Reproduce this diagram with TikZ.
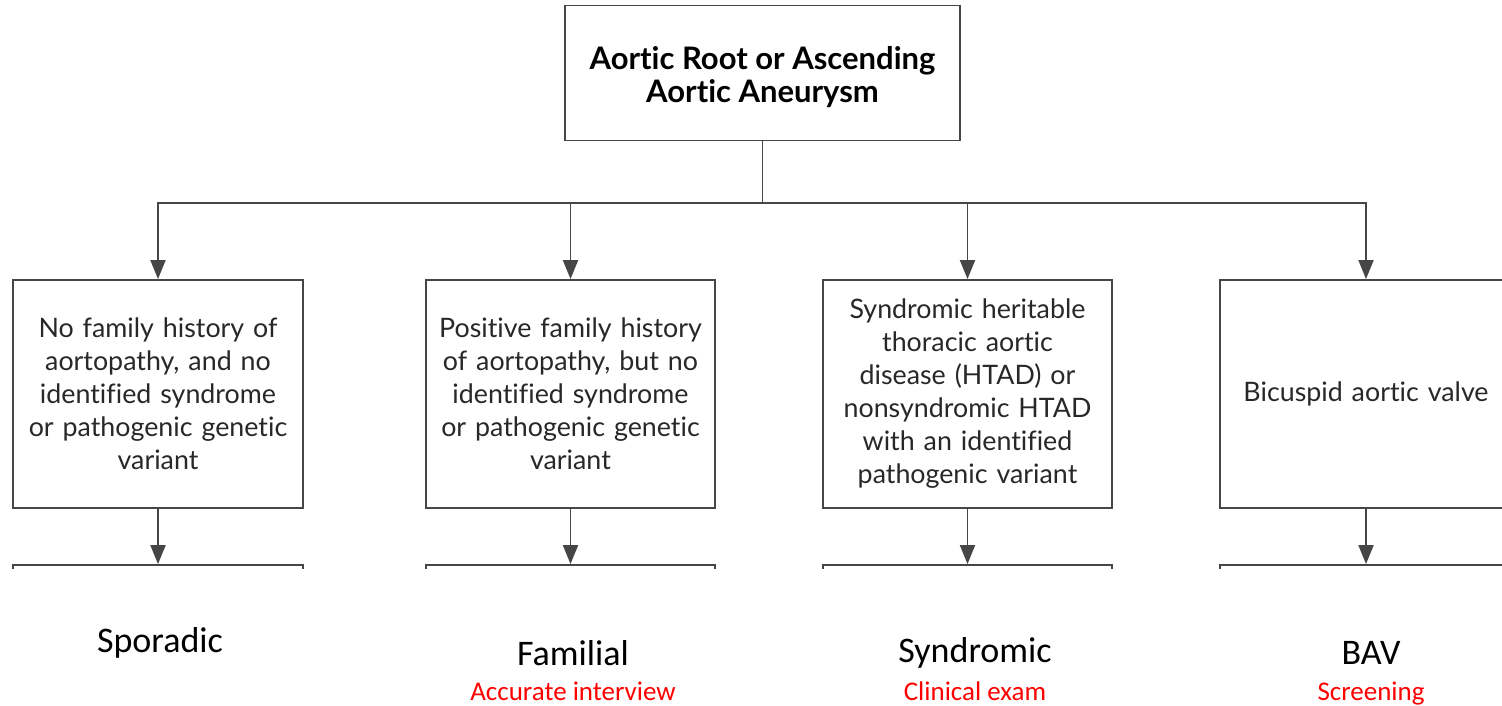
\documentclass[tikz,border=0pt]{standalone}
\usepackage{fontspec}
\setmainfont{Lato}[Ligatures=NoCommon]
\newfontfamily\calib{Carlito}
\usetikzlibrary{arrows.meta}
\definecolor{linec}{RGB}{70,70,70}
\definecolor{txtc}{RGB}{40,40,40}
\definecolor{redc}{RGB}{255,0,0}
\tikzset{
  box/.style={draw=linec, line width=1.9pt, align=center, inner sep=0pt,
    minimum height=228pt, text=txtc, font=\fontsize{26.8}{33}\selectfont},
  conn/.style={draw=linec, line width=1.9pt},
  arr/.style={conn, -{Triangle[length=19pt,width=15pt]}},
  lab/.style={font=\calib\fontsize{36}{40}\selectfont, text=black, inner sep=0pt},
  sub/.style={font=\calib\fontsize{27}{30}\selectfont, text=redc, inner sep=0pt}
}
\begin{document}
\begin{tikzpicture}[x=1pt,y=-1pt]
\useasboundingbox (0,0) rectangle (1502,705);
\fill[white] (0,0) rectangle (1502,705);
\begin{scope}
\clip (0,0) rectangle (1502,705);
\node[draw=linec, line width=1.9pt, minimum width=395pt, minimum height=135pt, align=center,
  font=\bfseries\fontsize{31}{33}\selectfont, text=black] (top) at (762.5,73) {\rule{0pt}{31pt}Aortic Root or Ascending\\Aortic Aneurysm};
\node[box, minimum width=290pt, text width=280pt] (b1) at (158,394) {No family history of\\aortopathy, and no\\identified syndrome\\or pathogenic genetic\\variant};
\node[box, minimum width=289pt, text width=285pt] (b2) at (570.5,394) {Positive family history\\of aortopathy, but no\\identified syndrome\\or pathogenic genetic\\variant};
\node[box, minimum width=289pt, text width=280pt] (b3) at (967.5,394) {Syndromic heritable\\thoracic aortic\\disease (HTAD) or\\nonsyndromic HTAD\\with an identified\\pathogenic variant};
\node[box, minimum width=292pt, text width=285pt] (b4) at (1366,394) {Bicuspid aortic valve};
\end{scope}
\begin{scope}
\clip (0,0) rectangle (1502,568);
\node[box, minimum width=290pt, minimum height=100pt] (l1) at (158,615) {};
\node[box, minimum width=289pt, minimum height=100pt] (l2) at (570.5,615) {};
\node[box, minimum width=289pt, minimum height=100pt] (l3) at (967.5,615) {};
\node[box, minimum width=292pt, minimum height=100pt] (l4) at (1366,615) {};
\end{scope}
\coordinate (j) at (762.5,203);
\draw[conn] (top.south) -- (j);
\draw[arr] (j) -| (b1.north);
\draw[arr] (j) -| (b2.north);
\draw[arr] (j) -| (b3.north);
\draw[arr] (j) -| (b4.north);
\draw[arr] (b1.south) -- (l1.north);
\draw[arr] (b2.south) -- (l2.north);
\draw[arr] (b3.south) -- (l3.north);
\draw[arr] (b4.south) -- (l4.north);
\node[lab] (t1) at (160,643) {Sporadic};
\node[lab] (t2) at (573,653) {Familial};
\node[sub, anchor=base] (s2) at (573,700) {Accurate interview};
\node[lab] (t3) at (975,653) {Syndromic};
\node[sub, anchor=base] (s3) at (975,700) {Clinical exam};
\node[lab] (t4) at (1371,653) {BAV};
\node[sub, anchor=base] (s4) at (1371,700) {Screening};
\end{tikzpicture}
\end{document}
